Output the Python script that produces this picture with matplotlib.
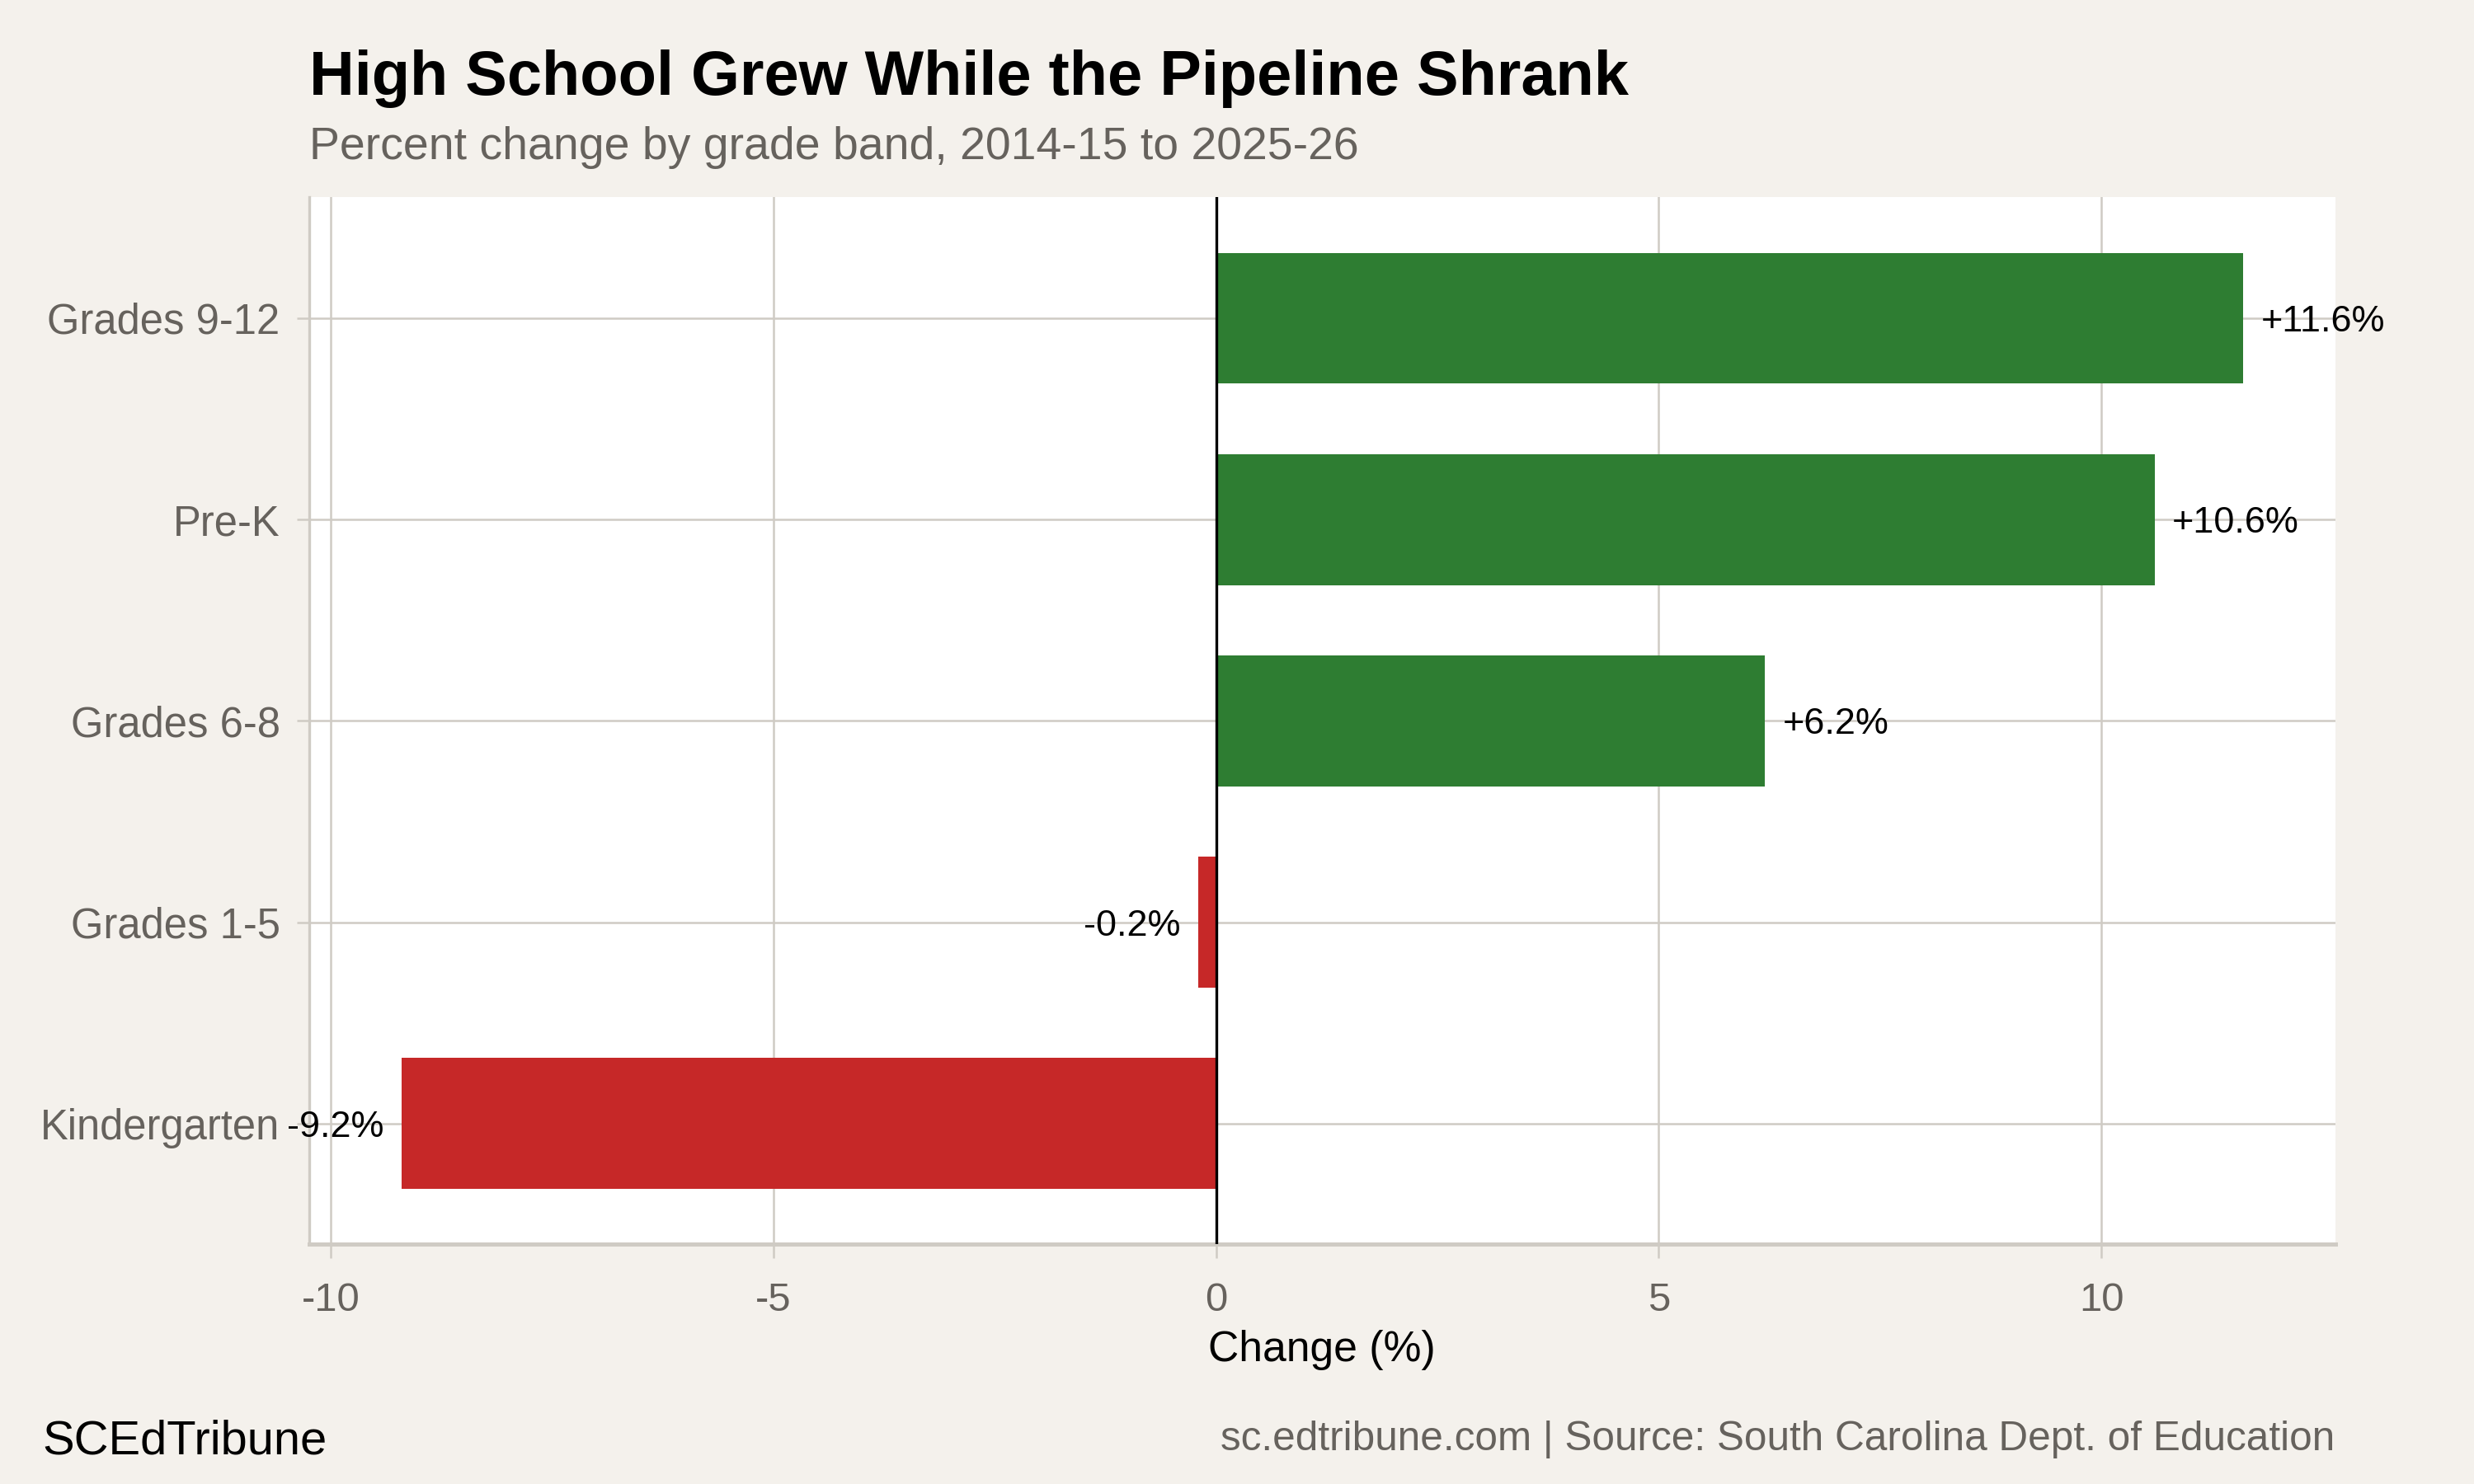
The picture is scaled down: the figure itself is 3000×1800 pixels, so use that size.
import matplotlib
matplotlib.use("Agg")
import matplotlib.pyplot as plt

categories = ["Kindergarten", "Grades 1-5", "Grades 6-8", "Pre-K", "Grades 9-12"]
values = [-9.2, -0.2, 6.2, 10.6, 11.6]
xticks = [-10, -5, 0, 5, 10]

title = "High School Grew While the Pipeline Shrank"
subtitle = "Percent change by grade band, 2014-15 to 2025-26"
xlabel = "Change (%)"
brand = "SCEdTribune"
source = "sc.edtribune.com | Source: South Carolina Dept. of Education"

BG = "#F4F1EC"
GRID = "#CFCBC4"
GREEN = "#2E7D32"
RED = "#C62828"
GREYTXT = "#66625D"

plt.rcParams["font.family"] = ["Liberation Sans", "DejaVu Sans"]

fig = plt.figure(figsize=(10, 6), dpi=300, facecolor=BG)
ax = fig.add_axes([0.125, 0.1615, 0.8189, 0.7055])
ax.set_facecolor("white")

ypos = list(range(len(categories)))
colors = [GREEN if v >= 0 else RED for v in values]
ax.barh(ypos, values, height=0.65, color=colors, zorder=2)
ax.axvline(0, color="black", lw=0.8, zorder=3)

for y, v in zip(ypos, values):
    lab = f"{v:+.1f}%"
    if v >= 0:
        ax.text(v + 0.2, y, lab, ha="left", va="center_baseline", fontsize=10.8, color="black", zorder=4)
    else:
        ax.text(v - 0.2, y, lab, ha="right", va="center_baseline", fontsize=10.8, color="black", zorder=4)

ax.set_xlim(-10.24, 12.64)
ax.set_ylim(-0.6, 4.6)
ax.set_yticks(ypos)
ax.set_yticklabels(categories)
ax.set_xticks(xticks)
ax.set_xticklabels([str(t) for t in xticks])

ax.grid(True, color=GRID, lw=0.6, zorder=0)
ax.set_axisbelow(True)

for s in ["top", "right"]:
    ax.spines[s].set_visible(False)
ax.spines["left"].set_color(GRID)
ax.spines["left"].set_linewidth(0.8)
ax.spines["bottom"].set_color(GRID)
ax.spines["bottom"].set_linewidth(1.2)

ax.tick_params(axis="both", colors=GRID, labelcolor=GREYTXT, width=0.6)
ax.tick_params(axis="x", length=4, pad=7, labelsize=11.8)
ax.tick_params(axis="y", length=3.5, pad=5, labelsize=12.2)

ax.set_xlabel(xlabel, fontsize=12.4, color="black", labelpad=3)

fig.text(0.125, 0.936, title, fontsize=18.2, fontweight="bold", color="black", ha="left", va="baseline")
fig.text(0.125, 0.893, subtitle, fontsize=13.3, color=GREYTXT, ha="left", va="baseline")
fig.text(0.0172, 0.02, brand, fontsize=13.9, color="black", ha="left", va="baseline")
fig.text(0.9439, 0.023, source, fontsize=11.9, color=GREYTXT, ha="right", va="baseline")

fig.savefig("out.png", dpi=300, facecolor=BG)
